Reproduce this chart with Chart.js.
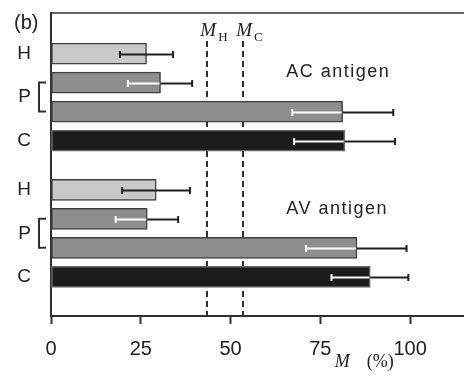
<!DOCTYPE html>
<html>
<head>
<meta charset="utf-8">
<script src="https://cdn.jsdelivr.net/npm/chart.js@4/dist/chart.umd.min.js"></script>
<style>
  html, body { margin: 0; padding: 0; background: #fff; }
</style>
</head>
<body>
<canvas id="myChart" width="464" height="378"></canvas>
<script>
/*------------------------------data------------------------------------*/
const groups = ["AC antigen", "AV antigen"];
const rowLabels = ["H", "P", "P", "C"];
const acValues  = [26.6, 30.5, 81.2, 81.8];
const acErrLow  = [19.2, 21.4, 67.2, 67.7];
const acErrHigh = [34.0, 39.3, 95.3, 95.8];
const avValues  = [29.3, 26.8, 85.2, 88.9];
const avErrLow  = [19.8, 18.0, 71.0, 78.1];
const avErrHigh = [38.7, 35.4, 99.0, 99.5];
const markerNames  = ["H", "C"];
const markerValues = [43.5, 53.5];
const xTicks = [0, 25, 50, 75, 100];

/*------------------------------layout------------------------------------*/
const GROUP_STEP = 4.7;   // distance between the two groups, in rows
const INK = '#303030';
const SANS = "'Liberation Sans', Arial, sans-serif";
const SERIF = "'Liberation Serif', 'Times New Roman', serif";
const fills = { H: '#c9c9c9', P: '#8e8e8e', C: '#1c1c1c' };
const borders = { H: '#404040', P: '#404040', C: '#6a6a6a' };

const groupValues = [acValues, avValues];
const groupLow = [acErrLow, avErrLow];
const groupHigh = [acErrHigh, avErrHigh];

let barData = [], barFill = [], barBorder = [], errLow = [], errHigh = [], barKind = [];
groups.forEach((g, gi) => {
  rowLabels.forEach((lab, ri) => {
    barData.push({ x: groupValues[gi][ri], y: gi * GROUP_STEP + ri });
    barFill.push(fills[lab]);
    barBorder.push(borders[lab]);
    errLow.push(groupLow[gi][ri]);
    errHigh.push(groupHigh[gi][ri]);
    barKind.push(lab);
  });
});

// one tick label per distinct row label, placed at the mean of its rows
let tickText = [], tickPos = [];
groups.forEach((g, gi) => {
  [...new Set(rowLabels)].forEach(lab => {
    const rows = rowLabels.map((l, i) => l === lab ? i : null).filter(v => v !== null);
    tickText.push(lab);
    tickPos.push(gi * GROUP_STEP + rows.reduce((a, b) => a + b, 0) / rows.length);
  });
});

/*------------------------------extras plugin------------------------------------*/
const extras = {
  id: 'extras',
  beforeDatasetsDraw(chart) {
    const { ctx, chartArea, scales: { x } } = chart;
    ctx.save();
    // top frame line
    ctx.strokeStyle = INK;
    ctx.lineWidth = 1.5;
    ctx.beginPath();
    ctx.moveTo(chartArea.left, chartArea.top);
    ctx.lineTo(chartArea.right, chartArea.top);
    ctx.stroke();
    // dashed marker lines
    ctx.lineWidth = 2;
    ctx.setLineDash([6, 4]);
    markerValues.forEach(v => {
      const px = Math.round(x.getPixelForValue(v));
      ctx.beginPath();
      ctx.moveTo(px, chartArea.top + 28);
      ctx.lineTo(px, chartArea.bottom);
      ctx.stroke();
    });
    ctx.restore();
  },
  afterDatasetsDraw(chart) {
    const { ctx, chartArea, scales: { x, y } } = chart;
    ctx.save();
    ctx.lineWidth = 2;
    // error bars
    barData.forEach((d, i) => {
      const py = Math.round(y.getPixelForValue(d.y)) + 0.5;
      const lo = x.getPixelForValue(errLow[i]);
      const mid = x.getPixelForValue(d.x);
      const hi = x.getPixelForValue(errHigh[i]);
      const seg = (a, b, col, capA, capB) => {
        ctx.strokeStyle = col;
        ctx.beginPath();
        ctx.moveTo(a, py); ctx.lineTo(b, py);
        if (capA) { ctx.moveTo(a, py - 3.5); ctx.lineTo(a, py + 3.5); }
        if (capB) { ctx.moveTo(b, py - 3.5); ctx.lineTo(b, py + 3.5); }
        ctx.stroke();
      };
      if (barKind[i] === 'H') {
        seg(lo, hi, '#202020', true, true);
      } else {
        seg(lo, mid - 1, '#ffffff', true, false);
        seg(mid, hi, '#202020', false, true);
      }
    });
    // bracket joining the two P rows
    ctx.strokeStyle = INK;
    groups.forEach((g, gi) => {
      const rows = rowLabels.map((l, i) => l === 'P' ? i : null).filter(v => v !== null);
      const y1 = y.getPixelForValue(gi * GROUP_STEP + rows[0]);
      const y2 = y.getPixelForValue(gi * GROUP_STEP + rows[rows.length - 1]);
      const xr = chartArea.left - 5, xl = chartArea.left - 12;
      ctx.beginPath();
      ctx.moveTo(xr, y1); ctx.lineTo(xl, y1); ctx.lineTo(xl, y2); ctx.lineTo(xr, y2);
      ctx.stroke();
    });
    // group names
    ctx.fillStyle = '#222';
    ctx.font = '18px ' + SANS;
    ctx.textBaseline = 'alphabetic';
    ctx.textAlign = 'left';
    ctx.letterSpacing = '1.5px';
    groups.forEach((g, gi) => {
      ctx.fillText(g, x.getPixelForValue(65.5), y.getPixelForValue(gi * GROUP_STEP + 0.65) + 5);
    });
    ctx.letterSpacing = '0px';
    // marker labels M_H, M_C
    markerValues.forEach((v, i) => {
      const px = x.getPixelForValue(v) + 1;
      ctx.font = 'italic 19px ' + SERIF;
      ctx.textAlign = 'center';
      const w = ctx.measureText('M').width;
      ctx.fillText('M', px, chartArea.top + 23);
      ctx.font = '13px ' + SERIF;
      ctx.textAlign = 'left';
      ctx.fillText(markerNames[i], px + w / 2 + 2, chartArea.top + 28);
    });
    ctx.restore();
  },
  afterDraw(chart) {
    const { ctx, scales: { x } } = chart;
    ctx.save();
    ctx.fillStyle = '#222';
    ctx.textBaseline = 'alphabetic';
    ctx.font = '20px ' + SANS;
    ctx.fillText('(b)', 14, 29);
    // x axis title
    const tx = x.getPixelForValue(79);
    ctx.font = 'italic 18px ' + SERIF;
    ctx.fillText('M', tx, 367);
    ctx.font = '18px ' + SERIF;
    ctx.fillText('(%)', tx + 32, 367);
    ctx.restore();
  }
};

/*------------------------------chart------------------------------------*/
const ctx = document.getElementById('myChart').getContext('2d');
Chart.defaults.font.family = SANS;
let barChart = new Chart(ctx, {
  type: 'bar',
  data: {
    datasets: [{
      data: barData,
      backgroundColor: barFill,
      borderColor: barBorder,
      borderWidth: 1.5,
      borderSkipped: false,
      barThickness: 21
    }]
  },
  options: {
    indexAxis: 'y',
    responsive: false,
    animation: false,
    layout: { padding: { top: 13, left: 0, right: 0, bottom: 0 } },
    plugins: { legend: { display: false }, tooltip: { enabled: false } },
    scales: {
      x: {
        type: 'linear',
        min: 0,
        max: 115,
        afterBuildTicks: s => { s.ticks = xTicks.map(v => ({ value: v })); },
        afterFit: s => { s.height = 62; s.paddingLeft = 0; s.paddingRight = 0; },
        grid: { drawOnChartArea: false, drawTicks: true, tickLength: 8, tickWidth: 2, tickColor: INK },
        border: { display: true, color: INK, width: 2 },
        ticks: { color: '#222', font: { size: 20 }, padding: 13, maxRotation: 0, autoSkip: false }
      },
      y: {
        type: 'linear',
        reverse: true,
        offset: false,
        min: -1.4,
        max: 9.05,
        afterBuildTicks: s => { s.ticks = tickPos.map(v => ({ value: v })); },
        afterFit: s => { s.width = 51; s.paddingTop = 0; s.paddingBottom = 0; },
        grid: { drawOnChartArea: false, drawTicks: false, offset: false },
        border: { display: true, color: INK, width: 2 },
        ticks: {
          color: '#222',
          font: { size: 19 },
          padding: 20,
          autoSkip: false,
          callback: (v, i) => tickText[i]
        }
      }
    }
  },
  plugins: [extras]
});
</script>
</body>
</html>
